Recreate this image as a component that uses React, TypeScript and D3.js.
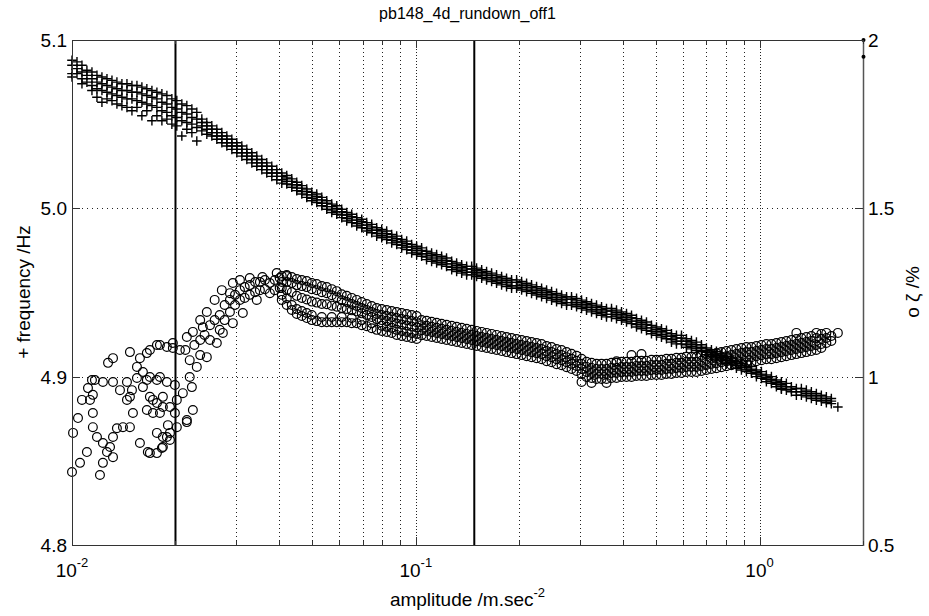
import React, { useEffect, useRef } from "react";
import * as d3 from "d3";

const chartTitle = "pb148_4d_rundown_off1";
const xDomain = [0.01, 2];
const xTickExponents = [-2, -1, 0];
const freqTicks = [4.8, 4.9, 5.0, 5.1];
const dampTicks = [0.5, 1, 1.5, 2];
const markerLines = [0.02, 0.148];
const rightAxisDots = [2, 1.95];

// each row: [amplitude, frequency Hz readings at that amplitude...]  (+ markers)
const freqRows: number[][] = [
  [0.01, 5.088, 5.085, 5.080, 5.078], [0.01034, 5.087, 5.083, 5.080], [0.01069, 5.085, 5.081, 5.077, 5.074],
  [0.01105, 5.082, 5.079, 5.075], [0.01143, 5.081, 5.077, 5.073, 5.070], [0.01182, 5.079, 5.075, 5.071, 5.066],
  [0.01222, 5.078, 5.074, 5.070, 5.063], [0.01264, 5.077, 5.073, 5.069, 5.065], [0.01307, 5.076, 5.072, 5.068, 5.064],
  [0.01351, 5.075, 5.071, 5.067, 5.062], [0.01397, 5.074, 5.070, 5.066, 5.061], [0.01445, 5.074, 5.070, 5.065, 5.060],
  [0.01494, 5.073, 5.069, 5.065, 5.058], [0.01545, 5.073, 5.069, 5.064, 5.060], [0.01597, 5.072, 5.068, 5.063, 5.055],
  [0.01651, 5.071, 5.067, 5.062, 5.058], [0.01708, 5.070, 5.066, 5.061, 5.052], [0.01766, 5.069, 5.065, 5.060, 5.055],
  [0.01826, 5.068, 5.063, 5.058, 5.052], [0.01888, 5.067, 5.062, 5.057, 5.053], [0.01952, 5.065, 5.060, 5.055, 5.050],
  [0.02018, 5.064, 5.059, 5.054, 5.049], [0.02087, 5.062, 5.057, 5.052, 5.043], [0.02158, 5.061, 5.056, 5.051, 5.047],
  [0.02232, 5.059, 5.054, 5.050, 5.045], [0.02307, 5.057, 5.053, 5.048, 5.040],
  [0.02386, 5.053, 5.051, 5.049, 5.046], [0.02467, 5.051, 5.049, 5.047, 5.044], [0.02551, 5.049, 5.047, 5.045, 5.043],
  [0.02638, 5.047, 5.045, 5.043, 5.041], [0.02728, 5.045, 5.043, 5.041, 5.039], [0.02821, 5.043, 5.041, 5.039, 5.037],
  [0.02917, 5.041, 5.039, 5.037, 5.035], [0.03016, 5.039, 5.037, 5.035, 5.033], [0.03119, 5.037, 5.035, 5.033, 5.031],
  [0.03225, 5.035, 5.033, 5.031, 5.029], [0.03335, 5.033, 5.031, 5.029, 5.027], [0.03448, 5.031, 5.029, 5.027, 5.025],
  [0.03565, 5.029, 5.027, 5.025, 5.023], [0.03686, 5.027, 5.025, 5.023, 5.021], [0.03812, 5.025, 5.023, 5.021, 5.019],
  [0.03942, 5.023, 5.021, 5.019, 5.017], [0.04076, 5.021, 5.019, 5.017, 5.015], [0.04214, 5.0195, 5.018, 5.016, 5.0145],
  [0.04358, 5.0175, 5.016, 5.014, 5.0125], [0.04506, 5.0155, 5.014, 5.012, 5.0105], [0.0466, 5.0135, 5.012, 5.010, 5.0085],
  [0.04818, 5.0115, 5.010, 5.008, 5.0065], [0.04983, 5.0095, 5.008, 5.006, 5.0045], [0.05152, 5.0085, 5.007, 5.005, 5.0035],
  [0.05328, 5.0065, 5.005, 5.003, 5.0015], [0.05509, 5.0045, 5.003, 5.001, 4.9995], [0.05696, 5.0025, 5.001, 4.999, 4.9975],
  [0.0589, 5.0015, 5.000, 4.998, 4.9965], [0.0609, 4.9995, 4.998, 4.996, 4.9945], [0.06297, 4.9975, 4.996, 4.994, 4.9925],
  [0.06512, 4.9965, 4.995, 4.993, 4.9915], [0.06733, 4.9945, 4.993, 4.991, 4.9895], [0.06963, 4.9935, 4.992, 4.990, 4.9885],
  [0.072, 4.9915, 4.990, 4.988, 4.9865], [0.07444, 4.9905, 4.989, 4.987, 4.9855], [0.07697, 4.9885, 4.987, 4.985, 4.9835],
  [0.0796, 4.9875, 4.986, 4.984, 4.9825], [0.0823, 4.9865, 4.985, 4.983, 4.9815], [0.08511, 4.9845, 4.983, 4.981, 4.9795],
  [0.088, 4.9835, 4.982, 4.980, 4.9785], [0.091, 4.9815, 4.980, 4.978, 4.9765], [0.0941, 4.9805, 4.979, 4.977, 4.9755],
  [0.0973, 4.9785, 4.977, 4.975, 4.9735], [0.1006, 4.9775, 4.976, 4.974, 4.9725], [0.104, 4.9765, 4.975, 4.973, 4.9715],
  [0.1075, 4.9745, 4.973, 4.971, 4.9695], [0.1112, 4.9735, 4.972, 4.970, 4.9685], [0.115, 4.9725, 4.971, 4.969, 4.9675],
  [0.1189, 4.9715, 4.970, 4.968, 4.9665], [0.1229, 4.9705, 4.969, 4.967, 4.9655], [0.1272, 4.9685, 4.967, 4.965, 4.9635],
  [0.1315, 4.9675, 4.966, 4.964, 4.9625], [0.136, 4.9665, 4.965, 4.963, 4.9615], [0.1406, 4.9655, 4.964, 4.962, 4.9605],
  [0.1454, 4.9655, 4.964, 4.962, 4.9605], [0.1503, 4.9645, 4.963, 4.961, 4.9595], [0.1555, 4.9635, 4.962, 4.960, 4.9585],
  [0.1607, 4.9625, 4.961, 4.959, 4.9575], [0.1662, 4.9615, 4.960, 4.958, 4.9565], [0.1718, 4.9605, 4.959, 4.957, 4.9555],
  [0.1777, 4.9595, 4.958, 4.956, 4.9545], [0.1837, 4.9585, 4.957, 4.955, 4.9535], [0.19, 4.9575, 4.956, 4.954, 4.9525],
  [0.1965, 4.9575, 4.956, 4.954, 4.9525], [0.2032, 4.9565, 4.955, 4.953, 4.9515], [0.2101, 4.9555, 4.954, 4.952, 4.9505],
  [0.2172, 4.9545, 4.953, 4.951, 4.9495], [0.2246, 4.9535, 4.952, 4.950, 4.9485], [0.2323, 4.9525, 4.951, 4.949, 4.9475],
  [0.2402, 4.9515, 4.950, 4.948, 4.9465], [0.2484, 4.9505, 4.949, 4.947, 4.9455], [0.2568, 4.9495, 4.948, 4.946, 4.9445],
  [0.2656, 4.9485, 4.947, 4.945, 4.9435], [0.2746, 4.9475, 4.946, 4.944, 4.9425], [0.2839, 4.9475, 4.946, 4.944, 4.9425],
  [0.2936, 4.9465, 4.945, 4.943, 4.9415], [0.3036, 4.9455, 4.944, 4.942, 4.9405], [0.3139, 4.9445, 4.943, 4.941, 4.9395],
  [0.3246, 4.9435, 4.942, 4.940, 4.9385], [0.3356, 4.9425, 4.941, 4.939, 4.9375], [0.3471, 4.9415, 4.940, 4.938, 4.9365],
  [0.3588, 4.9405, 4.939, 4.937, 4.9355], [0.3711, 4.9405, 4.939, 4.937, 4.9355], [0.3837, 4.9395, 4.938, 4.936, 4.9345],
  [0.3968, 4.9385, 4.937, 4.935, 4.9335], [0.4103, 4.9375, 4.936, 4.934, 4.9325], [0.4243, 4.9365, 4.935, 4.933, 4.9315],
  [0.4387, 4.9345, 4.933, 4.931, 4.9295], [0.4536, 4.9335, 4.932, 4.930, 4.9285], [0.469, 4.9325, 4.931, 4.929, 4.9275],
  [0.485, 4.9305, 4.929, 4.927, 4.9255], [0.5015, 4.9295, 4.928, 4.926, 4.9245], [0.5186, 4.9285, 4.927, 4.925, 4.9235],
  [0.5362, 4.9275, 4.926, 4.924, 4.9225], [0.5545, 4.9255, 4.924, 4.922, 4.9205], [0.5733, 4.9245, 4.923, 4.921, 4.9195],
  [0.5929, 4.9245, 4.923, 4.921, 4.9195], [0.613, 4.9225, 4.921, 4.919, 4.9175], [0.6339, 4.9215, 4.920, 4.918, 4.9165],
  [0.6554, 4.9205, 4.919, 4.917, 4.9155], [0.6778, 4.919, 4.9175, 4.9165, 4.915], [0.7008, 4.917, 4.9155, 4.9145, 4.913],
  [0.7247, 4.916, 4.9145, 4.9135, 4.912], [0.7493, 4.915, 4.9135, 4.9125, 4.911], [0.7749, 4.914, 4.9125, 4.9115, 4.910],
  [0.8012, 4.912, 4.9105, 4.9095, 4.908], [0.8285, 4.911, 4.9095, 4.9085, 4.907], [0.8566, 4.909, 4.9075, 4.9065, 4.905],
  [0.8859, 4.908, 4.9065, 4.9055, 4.904], [0.9159, 4.907, 4.9055, 4.9045, 4.903], [0.9472, 4.906, 4.9045, 4.9035, 4.902],
  [0.9793, 4.904, 4.9025, 4.9015, 4.900], [1.0128, 4.903, 4.9015, 4.9005, 4.899], [1.0471, 4.901, 4.8995, 4.8985, 4.897],
  [1.0829, 4.900, 4.8985, 4.8975, 4.896], [1.1196, 4.898, 4.8965, 4.8955, 4.894], [1.1578, 4.897, 4.8955, 4.8945, 4.893, 4.8925],
  [1.1971, 4.896, 4.894, 4.892], [1.238, 4.894, 4.8925, 4.891], [1.28, 4.893, 4.891, 4.889], [1.3237, 4.893, 4.891, 4.889],
  [1.3687, 4.892, 4.890, 4.888], [1.4153, 4.891, 4.889, 4.887], [1.4635, 4.890, 4.888, 4.886], [1.5133, 4.889, 4.887, 4.8855],
  [1.5648, 4.888, 4.886, 4.8845], [1.618, 4.887, 4.8855, 4.884], [1.69, 4.882],
];

// each row: [amplitude, damping % readings at that amplitude...]  (o markers)
const dampRows: number[][] = [
  [0.01, 0.717], [0.01055, 0.744], [0.01206, 0.708], [0.01007, 0.833], [0.01041, 0.877], [0.01069, 0.931],
  [0.01113, 0.966], [0.01143, 0.990], [0.01166, 0.990], [0.0123, 0.984], [0.01316, 0.984], [0.01445, 0.984],
  [0.01545, 0.996], [0.01651, 0.990], [0.01766, 0.990], [0.01888, 0.984], [0.01992, 0.975],
  [0.01273, 1.041], [0.01316, 1.055], [0.01474, 1.073], [0.01685, 1.079], [0.01766, 1.094], [0.01888, 1.088],
  [0.01965, 1.085], [0.0206, 1.079], [0.02158, 1.118], [0.02247, 1.133], [0.02402, 1.147],
  [0.01128, 0.931], [0.0115, 0.946, 0.892, 0.850], [0.01182, 0.821], [0.0123, 0.803],
  [0.0129, 0.791], [0.01316, 0.821], [0.01351, 0.847], [0.01407, 0.850], [0.01474, 0.850, 0.940], [0.01504, 0.892],
  [0.01494, 0.960], [0.01545, 1.029], [0.01576, 1.055, 0.803], [0.01651, 1.070, 0.901], [0.01608, 1.014, 0.969],
  [0.01685, 0.999, 0.940, 0.773], [0.01802, 0.999, 0.892, 1.094], [0.01766, 0.922, 0.773, 0.833], [0.01838, 0.910, 0.940, 0.791, 0.821],
  [0.01927, 0.910, 0.812, 0.833], [0.02018, 0.931, 0.850], [0.02101, 0.951], [0.02232, 0.969], [0.01662, 0.776],
  [0.01826, 0.788], [0.01888, 0.821], [0.01901, 0.856], [0.01992, 0.892], [0.02158, 0.865, 0.871],
  [0.02247, 0.901], [0.0123, 0.744], [0.01264, 0.776], [0.01105, 0.776], [0.01445, 0.931], [0.01379, 0.960],
  [0.0172, 0.931, 0.892], [0.01316, 0.761], [0.01965, 1.100],
  [0.022, 0.999, 1.049], [0.02307, 1.029], [0.02467, 1.058, 1.192], [0.02638, 1.100], [0.02747, 1.130], [0.02937, 1.159, 1.278],
  [0.0314, 1.189], [0.03448, 1.228], [0.03764, 1.248],
  [0.0236, 1.168, 1.109, 1.064], [0.026, 1.228, 1.168], [0.02728, 1.257], [0.0288, 1.248, 1.228, 1.192],
  [0.0308, 1.287, 1.257, 1.228], [0.0329, 1.293, 1.272, 1.243], [0.0358, 1.296], [0.0394, 1.308], [0.04214, 1.302],
  [0.02137, 1.079], [0.0227, 1.094], [0.0243, 1.124], [0.0252, 1.153, 1.109], [0.0269, 1.183, 1.139],
  [0.0278, 1.213, 1.168], [0.0298, 1.243, 1.213], [0.0318, 1.266, 1.234], [0.0341, 1.281, 1.251],
  [0.0352, 1.281, 1.257], [0.0364, 1.287, 1.260], [0.0376, 1.278], [0.0389, 1.287, 1.257], [0.0402, 1.293, 1.263],
  [0.04076, 1.299, 1.281, 1.263, 1.243, 1.228], [0.04214, 1.299, 1.281, 1.257, 1.233, 1.213],
  [0.04358, 1.296, 1.278, 1.251, 1.213, 1.198], [0.04506, 1.290, 1.272, 1.240, 1.201, 1.186],
  [0.0466, 1.287, 1.269, 1.234, 1.195, 1.180], [0.04818, 1.284, 1.266, 1.229, 1.189, 1.174],
  [0.04983, 1.278, 1.260, 1.223, 1.183, 1.168], [0.05152, 1.275, 1.257, 1.220, 1.165],
  [0.05328, 1.269, 1.251, 1.216, 1.177, 1.162], [0.05509, 1.266, 1.248, 1.215, 1.162],
  [0.05696, 1.260, 1.242, 1.211, 1.177, 1.162], [0.0589, 1.254, 1.236, 1.208, 1.162],
  [0.0609, 1.245, 1.227, 1.204, 1.177, 1.162], [0.06297, 1.240, 1.222, 1.201, 1.162],
  [0.06512, 1.234, 1.216, 1.197, 1.174, 1.159], [0.06733, 1.228, 1.210, 1.194, 1.159],
  [0.06963, 1.222, 1.204, 1.188, 1.168, 1.153], [0.072, 1.216, 1.198, 1.183, 1.150],
  [0.07444, 1.210, 1.192, 1.177, 1.159, 1.144], [0.07697, 1.204, 1.186, 1.171, 1.139],
  [0.0796, 1.201, 1.183, 1.168, 1.151, 1.136], [0.0823, 1.198, 1.180, 1.165, 1.148, 1.133],
  [0.08511, 1.195, 1.177, 1.162, 1.145, 1.130], [0.088, 1.192, 1.174, 1.158, 1.139, 1.124],
  [0.091, 1.189, 1.171, 1.155, 1.136, 1.121], [0.0941, 1.186, 1.168, 1.152, 1.133, 1.118],
  [0.0973, 1.183, 1.165, 1.149, 1.130, 1.115], [0.1006, 1.180, 1.162, 1.146, 1.127, 1.112],
  [0.104, 1.168, 1.153, 1.138, 1.123], [0.1075, 1.166, 1.151, 1.136, 1.121], [0.1112, 1.163, 1.148, 1.133, 1.118],
  [0.115, 1.160, 1.145, 1.130, 1.115], [0.1189, 1.157, 1.142, 1.127, 1.112], [0.1229, 1.154, 1.139, 1.124, 1.109],
  [0.1272, 1.151, 1.136, 1.121, 1.106], [0.1315, 1.148, 1.133, 1.118, 1.103], [0.136, 1.145, 1.130, 1.115, 1.100],
  [0.1406, 1.142, 1.127, 1.112, 1.097], [0.1454, 1.139, 1.124, 1.109, 1.094], [0.1503, 1.136, 1.121, 1.106, 1.091],
  [0.1555, 1.133, 1.118, 1.103, 1.088], [0.1607, 1.130, 1.115, 1.100, 1.085], [0.1662, 1.127, 1.112, 1.097, 1.082],
  [0.1718, 1.124, 1.109, 1.094, 1.079], [0.1777, 1.121, 1.106, 1.091, 1.076], [0.1837, 1.118, 1.103, 1.088, 1.073],
  [0.19, 1.115, 1.100, 1.085, 1.070], [0.1965, 1.112, 1.097, 1.082, 1.067], [0.2032, 1.109, 1.094, 1.079, 1.064],
  [0.2101, 1.106, 1.091, 1.076, 1.061], [0.2172, 1.103, 1.088, 1.073, 1.058], [0.2246, 1.100, 1.085, 1.070, 1.055],
  [0.2323, 1.097, 1.082, 1.067, 1.052], [0.2402, 1.091, 1.076, 1.061, 1.046], [0.2484, 1.088, 1.073, 1.058, 1.043],
  [0.2568, 1.082, 1.067, 1.052, 1.037], [0.2656, 1.079, 1.064, 1.049, 1.034], [0.2746, 1.073, 1.058, 1.043, 1.028],
  [0.2839, 1.068, 1.053, 1.038, 1.023], [0.2936, 1.062, 1.047, 1.032, 1.017], [0.3036, 1.053, 1.038, 1.023, 1.008, 0.984],
  [0.3139, 1.044, 1.029, 1.014, 0.999], [0.3246, 1.041, 1.026, 1.011, 0.996, 0.981], [0.3356, 1.038, 1.023, 1.008, 0.993],
  [0.3471, 1.038, 1.023, 1.008, 0.993], [0.3588, 1.038, 1.023, 1.008, 0.993, 0.981], [0.3711, 1.041, 1.026, 1.011, 0.996],
  [0.3837, 1.041, 1.026, 1.011, 0.996, 1.046], [0.3968, 1.044, 1.029, 1.014, 0.999], [0.4103, 1.044, 1.029, 1.014, 0.999],
  [0.4243, 1.044, 1.029, 1.014, 0.999, 1.064], [0.4387, 1.047, 1.032, 1.017, 1.002], [0.4536, 1.047, 1.032, 1.017, 1.002, 1.067],
  [0.469, 1.047, 1.032, 1.017, 1.002], [0.485, 1.050, 1.035, 1.020, 1.005], [0.5015, 1.050, 1.035, 1.020, 1.005],
  [0.5186, 1.050, 1.035, 1.020, 1.005], [0.5362, 1.053, 1.038, 1.023, 1.008], [0.5545, 1.053, 1.038, 1.023, 1.008],
  [0.5733, 1.056, 1.041, 1.026, 1.011], [0.5929, 1.056, 1.041, 1.026, 1.011], [0.613, 1.059, 1.044, 1.029, 1.014],
  [0.6339, 1.059, 1.044, 1.029, 1.014], [0.6554, 1.059, 1.044, 1.029, 1.014], [0.6778, 1.062, 1.047, 1.032, 1.017],
  [0.7008, 1.065, 1.050, 1.035, 1.020], [0.7247, 1.068, 1.053, 1.038, 1.023], [0.7493, 1.070, 1.055, 1.040, 1.025],
  [0.7749, 1.073, 1.058, 1.043, 1.028], [0.8012, 1.076, 1.061, 1.046, 1.031], [0.8285, 1.079, 1.064, 1.049, 1.034],
  [0.8566, 1.082, 1.067, 1.052, 1.037], [0.8859, 1.085, 1.070, 1.055, 1.040], [0.9159, 1.088, 1.073, 1.058, 1.043],
  [0.9472, 1.088, 1.073, 1.058, 1.043], [0.9793, 1.091, 1.076, 1.061, 1.046], [1.0128, 1.094, 1.079, 1.064, 1.049],
  [1.0471, 1.097, 1.082, 1.067, 1.052], [1.0829, 1.097, 1.082, 1.067, 1.052], [1.1196, 1.100, 1.085, 1.070, 1.055],
  [1.1578, 1.103, 1.088, 1.073, 1.058], [1.1971, 1.106, 1.091, 1.076, 1.061], [1.238, 1.109, 1.094, 1.079, 1.064],
  [1.28, 1.130, 1.112, 1.097, 1.082, 1.067], [1.3237, 1.115, 1.100, 1.085, 1.070], [1.3687, 1.118, 1.103, 1.088, 1.073],
  [1.4153, 1.121, 1.106, 1.091, 1.076], [1.4635, 1.130, 1.115, 1.094, 1.079], [1.5133, 1.127, 1.112, 1.097, 1.085],
  [1.5648, 1.130, 1.115, 1.100], [1.618, 1.121, 1.106], [1.69, 1.130],
];

const width = 929;
const height = 616;
const plot = { left: 72, right: 863, top: 40, bottom: 545 };
const font = "Liberation Sans, Arial, Helvetica, sans-serif";

const toPoints = (rows: number[][]) => rows.flatMap((r) => r.slice(1).map((v) => [r[0], v] as [number, number]));

export default function App() {
  const ref = useRef<SVGSVGElement | null>(null);

  useEffect(() => {
    renderChart();
  }, []);

  const renderChart = () => {
    const svg = d3.select(ref.current);
    svg.selectAll("*").remove();

    const x = d3.scaleLog().domain(xDomain).range([plot.left, plot.right]);
    const yFreq = d3.scaleLinear().domain([4.8, 5.1]).range([plot.bottom, plot.top]);
    const yDamp = d3.scaleLinear().domain([0.5, 2]).range([plot.bottom, plot.top]);

    svg.append("rect").attr("width", width).attr("height", height).attr("fill", "#fff");

    const xTicks = x.ticks();
    const isMajor = (v: number) => xTickExponents.some((e) => Math.abs(v - Math.pow(10, e)) < 1e-9);

    // grid
    const grid = svg.append("g").attr("stroke", "#222").attr("stroke-width", 1);
    grid.selectAll("line.v").data(xTicks.filter((v) => v > xDomain[0] && v < xDomain[1])).join("line")
      .attr("class", "v")
      .attr("x1", (d) => Math.round(x(d)) + 0.5).attr("x2", (d) => Math.round(x(d)) + 0.5)
      .attr("y1", plot.top).attr("y2", plot.bottom)
      .attr("stroke-dasharray", (d) => (isMajor(d) ? "1,2" : "1,3"));
    grid.selectAll("line.h").data(freqTicks.slice(1, -1)).join("line")
      .attr("class", "h")
      .attr("x1", plot.left).attr("x2", plot.right)
      .attr("y1", (d) => Math.round(yFreq(d)) + 0.5).attr("y2", (d) => Math.round(yFreq(d)) + 0.5)
      .attr("stroke-dasharray", "1,4");

    // vertical marker lines
    svg.selectAll("line.marker").data(markerLines).join("line")
      .attr("class", "marker")
      .attr("x1", (d) => x(d)).attr("x2", (d) => x(d))
      .attr("y1", plot.top).attr("y2", plot.bottom)
      .attr("stroke", "#000").attr("stroke-width", 2);

    // damping circles
    svg.append("g").selectAll("circle").data(toPoints(dampRows)).join("circle")
      .attr("cx", (d) => x(d[0])).attr("cy", (d) => yDamp(d[1]))
      .attr("r", 4.4).attr("fill", "none").attr("stroke", "#000").attr("stroke-width", 1.2);

    // frequency crosses
    svg.append("g").selectAll("path").data(toPoints(freqRows)).join("path")
      .attr("transform", (d) => `translate(${x(d[0])},${yFreq(d[1])})`)
      .attr("d", "M-4.8,0H4.8M0,-4.8V4.8")
      .attr("stroke", "#000").attr("stroke-width", 1.4).attr("fill", "none");

    // axes box
    svg.append("rect")
      .attr("x", plot.left + 0.5).attr("y", plot.top + 0.5)
      .attr("width", plot.right - plot.left).attr("height", plot.bottom - plot.top)
      .attr("fill", "none").attr("stroke", "#333").attr("stroke-width", 1);
    svg.append("line")
      .attr("x1", plot.right + 0.5).attr("x2", plot.right + 0.5)
      .attr("y1", plot.top).attr("y2", plot.bottom + 1)
      .attr("stroke", "#555").attr("stroke-width", 1.5);

    svg.selectAll("circle.dot").data(rightAxisDots).join("circle")
      .attr("class", "dot")
      .attr("cx", plot.right + 0.5).attr("cy", (d) => yDamp(d))
      .attr("r", 2).attr("fill", "#000");

    // ticks
    const ticks = svg.append("g").attr("stroke", "#333").attr("stroke-width", 1);
    freqTicks.forEach((t) => {
      const yy = Math.round(yFreq(t)) + 0.5;
      ticks.append("line").attr("x1", plot.left).attr("x2", plot.left + 8).attr("y1", yy).attr("y2", yy);
    });
    dampTicks.forEach((t) => {
      const yy = Math.round(yDamp(t)) + 0.5;
      ticks.append("line").attr("x1", plot.right).attr("x2", plot.right - 8).attr("y1", yy).attr("y2", yy);
    });
    xTicks.forEach((t) => {
      const xx = Math.round(x(t)) + 0.5;
      const len = isMajor(t) ? 8 : 4;
      ticks.append("line").attr("x1", xx).attr("x2", xx).attr("y1", plot.bottom).attr("y2", plot.bottom - len);
      ticks.append("line").attr("x1", xx).attr("x2", xx).attr("y1", plot.top).attr("y2", plot.top + len);
    });

    // tick labels
    const labels = svg.append("g").attr("font-family", font).attr("fill", "#000");
    freqTicks.forEach((t) => {
      labels.append("text").attr("x", plot.left - 5).attr("y", yFreq(t) + 7)
        .attr("text-anchor", "end").attr("font-size", 19).text(d3.format(".1f")(t));
    });
    dampTicks.forEach((t) => {
      labels.append("text").attr("x", plot.right + 5).attr("y", yDamp(t) + 7)
        .attr("text-anchor", "start").attr("font-size", 19).text(String(t));
    });
    xTickExponents.forEach((e) => {
      const tx = labels.append("text").attr("x", x(Math.pow(10, e))).attr("y", plot.bottom + 32)
        .attr("text-anchor", "middle").attr("font-size", 19);
      tx.append("tspan").text("10");
      tx.append("tspan").attr("dy", -10).attr("font-size", 13).text(String(e));
    });

    // titles
    labels.append("text").attr("x", (plot.left + plot.right) / 2).attr("y", 19)
      .attr("text-anchor", "middle").attr("font-size", 16).text(chartTitle);
    const xl = labels.append("text").attr("x", (plot.left + plot.right) / 2).attr("y", 606)
      .attr("text-anchor", "middle").attr("font-size", 19);
    xl.append("tspan").text("amplitude /m.sec");
    xl.append("tspan").attr("dy", -9).attr("font-size", 13).text("-2");
    labels.append("text").attr("transform", "translate(30,292) rotate(-90)")
      .attr("text-anchor", "middle").attr("font-size", 19).text("+ frequency /Hz");
    labels.append("text").attr("transform", "translate(919,292) rotate(-90)")
      .attr("text-anchor", "middle").attr("font-size", 19).text("o \u03b6 /%");
  };

  return (
    <svg ref={ref} width={width} height={height}
      style={{ position: "absolute", left: 0, top: 0, display: "block" }} />
  );
}
